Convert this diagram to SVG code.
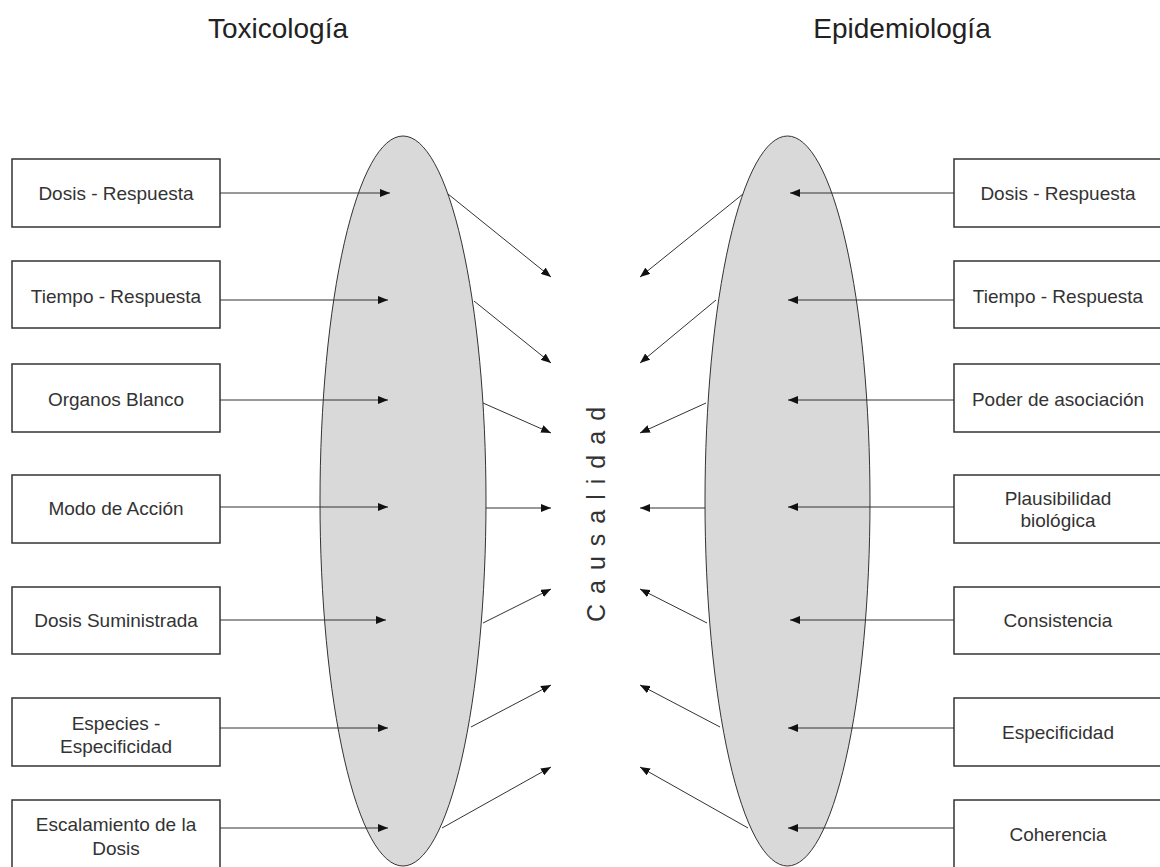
<svg xmlns="http://www.w3.org/2000/svg" width="1160" height="867" viewBox="0 0 1160 867">
<defs>
<marker id="ah" viewBox="0 0 10 8" refX="10" refY="4" markerWidth="10" markerHeight="8" markerUnits="userSpaceOnUse" orient="auto">
<path d="M0,0 L10,4 L0,8 Z" fill="#111"/>
</marker>
<style>
.box{fill:#fff;stroke:#333;stroke-width:1.5}
.ell{fill:#d9d9d9;stroke:#333;stroke-width:1}
.t{font-family:"Liberation Sans",Arial,sans-serif;font-size:19px;fill:#333;text-anchor:middle}
.title{font-family:"Liberation Sans",Arial,sans-serif;font-size:28px;fill:#222;text-anchor:middle}
.c{stroke:#333;stroke-width:1;fill:none;marker-end:url(#ah)}
</style>
</defs>
<rect width="1160" height="867" fill="#fff"/>
<text class="title" x="278" y="38">Toxicología</text>
<text class="title" x="902" y="38">Epidemiología</text>

<g id="ellipse-tox"><ellipse class="ell" cx="403" cy="501" rx="83" ry="365"/></g>
<g id="ellipse-epi"><ellipse class="ell" cx="787.5" cy="501" rx="82.5" ry="365"/></g>

<g id="causalidad"><text transform="translate(605,622) rotate(-90)" font-family="Liberation Sans, Arial, sans-serif" font-size="25" fill="#333" letter-spacing="10">Causalidad</text></g>

<g id="tox-1"><rect class="box" x="12" y="159" width="208" height="68"/><text class="t" x="116" y="200">Dosis - Respuesta</text></g>
<g id="tox-2"><rect class="box" x="12" y="261" width="208" height="67"/><text class="t" x="116" y="303">Tiempo - Respuesta</text></g>
<g id="tox-3"><rect class="box" x="12" y="364" width="208" height="68"/><text class="t" x="116" y="406">Organos Blanco</text></g>
<g id="tox-4"><rect class="box" x="12" y="475" width="208" height="68"/><text class="t" x="116" y="515">Modo de Acción</text></g>
<g id="tox-5"><rect class="box" x="12" y="587" width="208" height="67"/><text class="t" x="116" y="627">Dosis Suministrada</text></g>
<g id="tox-6"><rect class="box" x="12" y="698" width="208" height="68"/><text class="t" x="116" y="730">Especies -</text><text class="t" x="116" y="753">Especificidad</text></g>
<g id="tox-7"><rect class="box" x="12" y="800" width="208" height="80"/><text class="t" x="116" y="831">Escalamiento de la</text><text class="t" x="116" y="855">Dosis</text></g>

<g id="epi-1"><rect class="box" x="954" y="159" width="210" height="68"/><text class="t" x="1058" y="200">Dosis - Respuesta</text></g>
<g id="epi-2"><rect class="box" x="954" y="261" width="210" height="67"/><text class="t" x="1058" y="303">Tiempo - Respuesta</text></g>
<g id="epi-3"><rect class="box" x="954" y="364" width="210" height="68"/><text class="t" x="1058" y="406">Poder de asociación</text></g>
<g id="epi-4"><rect class="box" x="954" y="475" width="210" height="68"/><text class="t" x="1058" y="505">Plausibilidad</text><text class="t" x="1058" y="527">biológica</text></g>
<g id="epi-5"><rect class="box" x="954" y="587" width="210" height="67"/><text class="t" x="1058" y="627">Consistencia</text></g>
<g id="epi-6"><rect class="box" x="954" y="698" width="210" height="68"/><text class="t" x="1058" y="739">Especificidad</text></g>
<g id="epi-7"><rect class="box" x="954" y="800" width="210" height="80"/><text class="t" x="1058" y="841">Coherencia</text></g>

<g id="connectors">
<line class="c" x1="220" y1="193" x2="390" y2="193"/>
<line class="c" x1="220" y1="300" x2="388" y2="300"/>
<line class="c" x1="220" y1="400" x2="388" y2="400"/>
<line class="c" x1="220" y1="507" x2="388" y2="507"/>
<line class="c" x1="220" y1="620" x2="386" y2="620"/>
<line class="c" x1="220" y1="728" x2="388" y2="728"/>
<line class="c" x1="220" y1="828" x2="388" y2="828"/>

<line class="c" x1="954" y1="193" x2="790" y2="193"/>
<line class="c" x1="954" y1="300" x2="788" y2="300"/>
<line class="c" x1="954" y1="400" x2="788" y2="400"/>
<line class="c" x1="954" y1="507" x2="788" y2="507"/>
<line class="c" x1="954" y1="620" x2="790" y2="620"/>
<line class="c" x1="954" y1="728" x2="788" y2="728"/>
<line class="c" x1="954" y1="828" x2="788" y2="828"/>

<line class="c" x1="448" y1="194" x2="551" y2="277"/>
<line class="c" x1="474" y1="301" x2="551" y2="363"/>
<line class="c" x1="483" y1="403" x2="551" y2="433"/>
<line class="c" x1="486" y1="508" x2="551" y2="508"/>
<line class="c" x1="483" y1="623" x2="551" y2="589"/>
<line class="c" x1="471" y1="727" x2="551" y2="685"/>
<line class="c" x1="442" y1="828" x2="551" y2="767"/>

<line class="c" x1="743" y1="194" x2="640" y2="277"/>
<line class="c" x1="716" y1="300" x2="640" y2="363"/>
<line class="c" x1="706" y1="403" x2="640" y2="433"/>
<line class="c" x1="705" y1="508" x2="640" y2="508"/>
<line class="c" x1="707" y1="623" x2="640" y2="589"/>
<line class="c" x1="720" y1="727" x2="640" y2="685"/>
<line class="c" x1="748" y1="828" x2="640" y2="767"/>
</g>
</svg>
